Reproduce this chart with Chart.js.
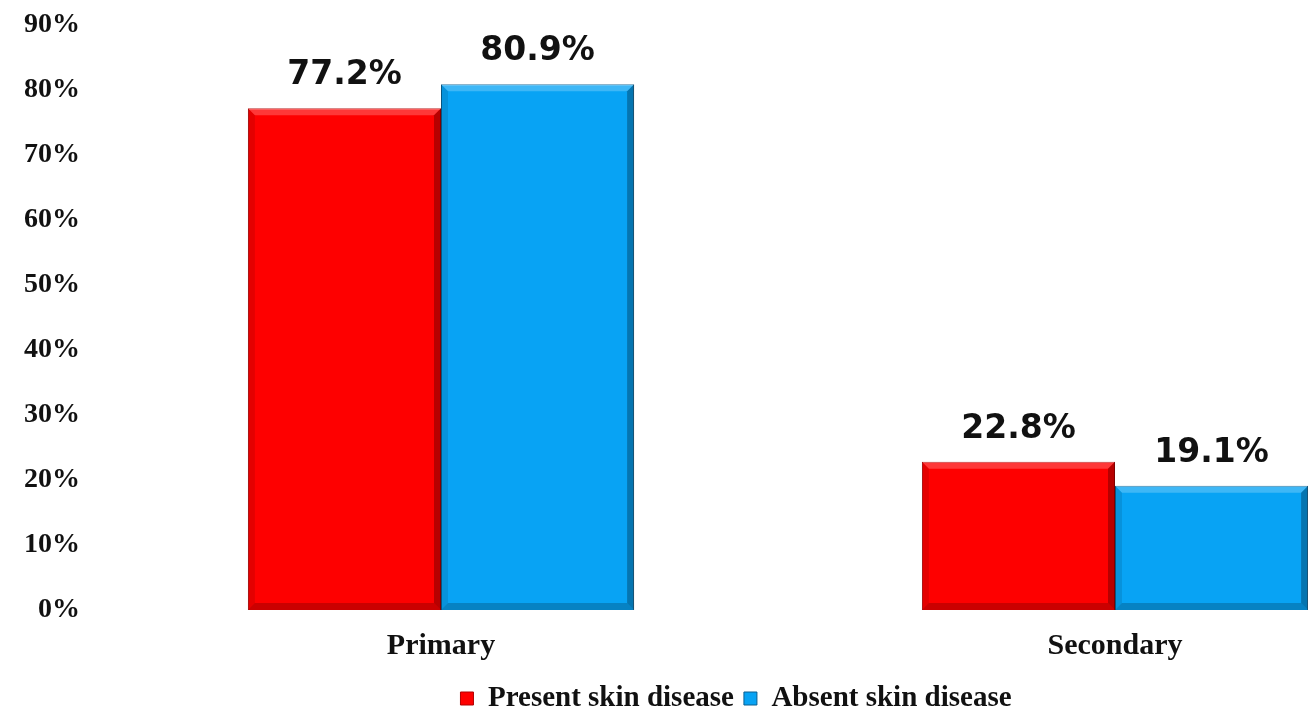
<!DOCTYPE html>
<html>
<head>
<meta charset="utf-8">
<script src="https://cdn.jsdelivr.net/npm/chart.js@4"></script>
<style>
    html, body { margin: 0; padding: 0; background: #fff; overflow: hidden; }
    #wrap { width: 1484px; height: 711px; }
</style>
</head>
<body>
<div id="wrap"><canvas id="chart"></canvas></div>
<script>
const categories = ['Primary', 'Secondary'];
const presentValues = [77.2, 22.8];
const absentValues = [80.9, 19.1];
const seriesNames = ['Present skin disease', 'Absent skin disease'];

const serif = "'Liberation Serif', 'Times New Roman', serif";

// little bevel on each bar + value labels above them
const bevelAndLabels = {
    id: 'bevelAndLabels',
    afterDatasetsDraw(chart) {
        const ctx = chart.ctx;
        chart.data.datasets.forEach((ds, di) => {
            const meta = chart.getDatasetMeta(di);
            meta.data.forEach((bar, i) => {
                const left = bar.x - bar.width / 2;
                const right = bar.x + bar.width / 2;
                const top = bar.y;
                const bottom = bar.base;
                const b = 7;
                ctx.save();
                // top highlight
                ctx.fillStyle = 'rgba(255,255,255,0.22)';
                ctx.beginPath();
                ctx.moveTo(left, top); ctx.lineTo(right, top);
                ctx.lineTo(right - b, top + b); ctx.lineTo(left + b, top + b);
                ctx.closePath(); ctx.fill();
                // right + bottom shade
                ctx.fillStyle = 'rgba(0,0,0,0.28)';
                ctx.beginPath();
                ctx.moveTo(right, top); ctx.lineTo(right, bottom);
                ctx.lineTo(right - b, bottom - b); ctx.lineTo(right - b, top + b);
                ctx.closePath(); ctx.fill();
                ctx.fillStyle = 'rgba(0,0,0,0.2)';
                ctx.beginPath();
                ctx.moveTo(left, bottom); ctx.lineTo(right, bottom);
                ctx.lineTo(right - b, bottom - b); ctx.lineTo(left + b, bottom - b);
                ctx.closePath(); ctx.fill();
                // left shade
                ctx.fillStyle = 'rgba(0,0,0,0.1)';
                ctx.beginPath();
                ctx.moveTo(left, top); ctx.lineTo(left + b, top + b);
                ctx.lineTo(left + b, bottom - b); ctx.lineTo(left, bottom);
                ctx.closePath(); ctx.fill();

                ctx.fillStyle = '#111';
                ctx.font = "bold 33px 'DejaVu Sans', Verdana, sans-serif";
                ctx.textAlign = 'center';
                ctx.textBaseline = 'bottom';
                ctx.fillText(ds.data[i].toFixed(1) + '%', bar.x, top - 16);
                ctx.restore();
            });
        });
    }
};

new Chart(document.getElementById('chart'), {
    type: 'bar',
    data: {
        labels: categories,
        datasets: [{
            label: seriesNames[0],
            data: presentValues,
            backgroundColor: '#fe0000',
            borderColor: '#b00000',
            borderWidth: 1,
            categoryPercentage: 0.573,
            barPercentage: 1.0
        }, {
            label: seriesNames[1],
            data: absentValues,
            backgroundColor: '#08a3f4',
            borderColor: '#0a5f90',
            borderWidth: 1,
            categoryPercentage: 0.573,
            barPercentage: 1.0
        }]
    },
    options: {
        responsive: true,
        maintainAspectRatio: false,
        animation: false,
        layout: { padding: { left: 20, right: 32, top: 0, bottom: -12 } },
        plugins: {
            tooltip: { enabled: false },
            legend: {
                position: 'bottom',
                labels: {
                    color: '#111',
                    font: { family: serif, size: 29, weight: 'bold' },
                    boxWidth: 13,
                    boxHeight: 13,
                    padding: 10
                }
            }
        },
        scales: {
            x: {
                grid: { display: false },
                border: { display: false },
                ticks: {
                    color: '#111',
                    padding: 10,
                    font: { family: serif, size: 30, weight: 'bold' }
                }
            },
            y: {
                min: 0,
                max: 90,
                afterFit(scale) {
                    scale.width = 84;
                    scale.paddingTop = 25;
                    scale.paddingBottom = 0;
                },
                grid: { display: false },
                border: { display: false },
                ticks: {
                    stepSize: 10,
                    color: '#111',
                    padding: 16,
                    font: { family: serif, size: 28, weight: 'bold' },
                    callback: v => v + '%'
                }
            }
        }
    },
    plugins: [bevelAndLabels]
});
</script>
</body>
</html>
